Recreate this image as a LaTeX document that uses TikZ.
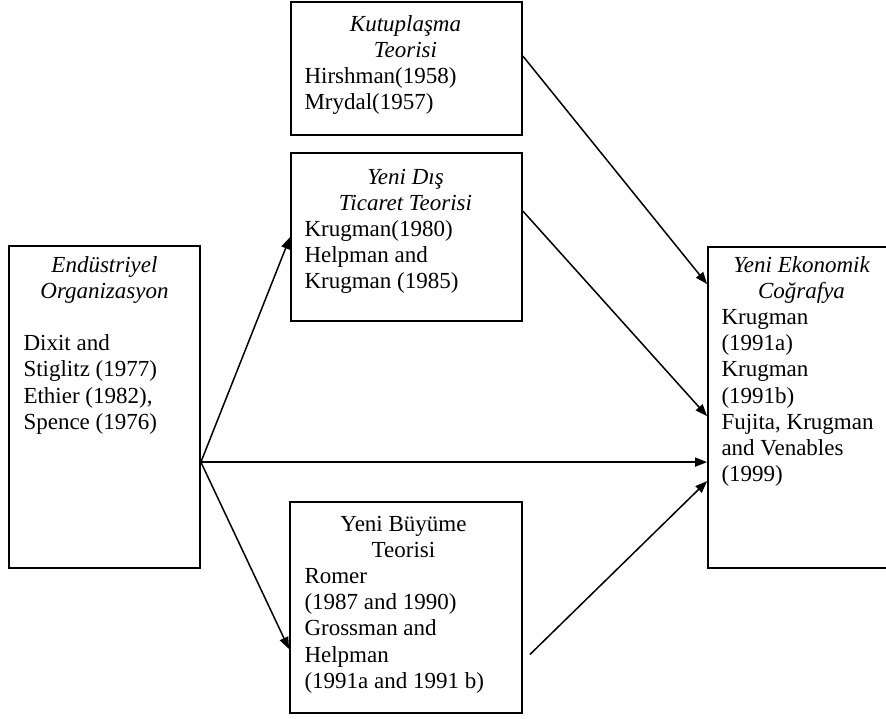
\documentclass[tikz,border=0pt]{standalone}
\usepackage{fontspec}
\setmainfont{Liberation Serif}
\usetikzlibrary{calc,arrows.meta,fit}

\begin{document}
\begin{tikzpicture}[x=0.5pt,y=-0.5pt,
		kutu/.style={draw, line width=0.9pt, inner sep=0pt},
		yazi/.style={anchor=base west, inner sep=0pt, font=\fontsize{11.5}{13.1}\selectfont},
		ok/.style={line width=0.75pt, -{Triangle[length=6pt,width=4.5pt]}}]
		\useasboundingbox (0,0) rectangle (886,718);
		\node[kutu, fit={(9,246) (200,568)}] (eo) {};
		\node[kutu, fit={(291,2) (522,135)}] (kt) {};
		\node[kutu, fit={(291,153) (522,321)}] (ydt) {};
		\node[kutu, fit={(290,502) (522,713)}] (ybt) {};
		\node[kutu, fit={(708,247) (896,568)}] (yec) {};
		\node[yazi] (eo-y) at ($(eo.north west)+(15,27)$) {\parbox[t]{81pt}{\centering\itshape Endüstriyel\\Organizasyon\par\vspace{13.1pt}\raggedright\upshape Dixit and\\Stiglitz (1977)\\Ethier (1982),\\Spence (1976)}};
		\node[yazi] (kt-y) at ($(kt.north west)+(14,30)$) {\parbox[t]{101pt}{\centering\itshape Kutuplaşma\\Teorisi\par\raggedright\upshape Hirshman(1958)\\Mrydal(1957)}};
		\node[yazi] (ydt-y) at ($(ydt.north west)+(14,32)$) {\parbox[t]{101pt}{\centering\itshape Yeni Dış\\Ticaret Teorisi\par\raggedright\upshape Krugman(1980)\\Helpman and\\Krugman (1985)}};
		\node[yazi] (ybt-y) at ($(ybt.north west)+(15,30)$) {\parbox[t]{99pt}{\centering Yeni Büyüme\\Teorisi\par\raggedright Romer\\(1987 and 1990)\\Grossman and\\Helpman\\(1991a and 1991 b)}};
		\node[yazi] (yec-y) at ($(yec.north west)+(14,26)$) {\parbox[t]{80pt}{\centering\itshape Yeni Ekonomik\\Coğrafya\par\raggedright\upshape Krugman\\(1991a)\\Krugman\\(1991b)\\Fujita, Krugman\\and Venables\\(1999)}};
		\coordinate (o) at ($(eo.north east)+(0,217)$);
		\coordinate (yb-c) at ($(ybt.east)+(7,47)$);
		\draw[ok] (o) -- (ydt.west);
		\draw[ok] (o) -- (o -| yec.west);
		\draw[ok] (o) -- ($(ybt.north west)+(0,148)$);
		\draw[ok] ($(kt.north east)+(0,55)$) -- ($(yec.north west)+(0,38)$);
		\draw[ok] ($(ydt.north east)+(0,59)$) -- ($(yec.north west)+(0,170)$);
		\draw[ok] (yb-c) -- ($(yec.north west)+(0,235)$);
\end{tikzpicture}
\end{document}
